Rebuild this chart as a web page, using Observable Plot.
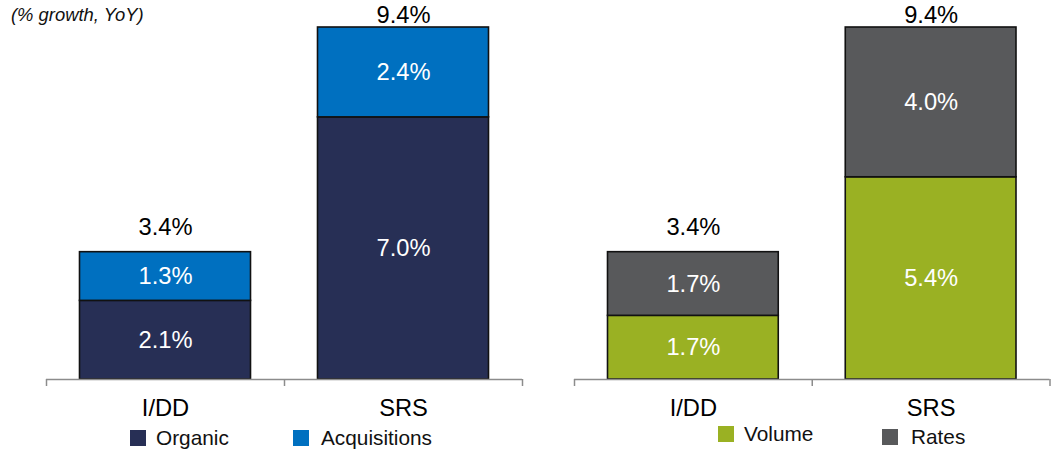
<!DOCTYPE html>
<html>
<head>
<meta charset="utf-8">
<script src="https://cdn.jsdelivr.net/npm/d3@7"></script>
<script src="https://cdn.jsdelivr.net/npm/@observablehq/plot@0.6"></script>
<style>
  body { margin: 0; background: #fff; font-family: "Liberation Sans", Arial, sans-serif; }
  #chart { position: relative; width: 1055px; height: 449px; overflow: hidden; }
  .title { position: absolute; left: 11px; top: 4px; font-size: 18.4px; font-style: italic; color: #111; }
  .panel { position: absolute; top: 0; }
  .panel g[aria-label="x-axis tick"] path { stroke-width: 1.5; }
  .legend-item { position: absolute; display: flex; align-items: center; font-size: 20.8px; line-height: 16px; color: #111; }
  .swatch { width: 16px; height: 16px; }
</style>
</head>
<body>
<div id="chart">
  <div class="title">(% growth, YoY)</div>
</div>
<script>
// Growth contributions by segment (% YoY)
const categories = ["I/DD", "SRS"];
const organic = [2.1, 7.0];
const acquisitions = [1.3, 2.4];
const volume = [1.7, 5.4];
const rates = [1.7, 4.0];

const seriesNamesLeft = ["Organic", "Acquisitions"];
const seriesNamesRight = ["Volume", "Rates"];
const colorsLeft = ["#272F55", "#0070C0"];
const colorsRight = ["#9AB123", "#58595B"];

const yMax = 9.4;
const fmt = v => v.toFixed(1) + "%";
const fontFamily = '"Liberation Sans", Arial, sans-serif';
const labelSize = 23.7;

function panel(names, colors, lower, upper, layout) {
  const rows = categories.flatMap((cat, i) => [
    {cat, i, series: names[0], value: lower[i]},
    {cat, i, series: names[1], value: upper[i]}
  ]);
  const totals = categories.map((cat, i) => ({cat, i, total: lower[i] + upper[i]}));

  return Plot.plot({
    width: layout.width,
    height: 420,
    marginLeft: layout.marginLeft,
    marginRight: layout.marginRight,
    marginTop: 27,
    marginBottom: 41,
    x: {
      domain: [0, categories.length],
      ticks: d3.range(categories.length + 1),
      tickSize: 7,
      tickFormat: () => "",
      label: null
    },
    y: {domain: [0, yMax], axis: null},
    color: {domain: names, range: colors},
    style: {fontFamily, background: "transparent", overflow: "visible", color: "#8c8c8c"},
    marks: [
      Plot.rectY(rows, {
        x1: "i", x2: d => d.i + 1, y: "value", fill: "series",
        stroke: "#111", strokeWidth: 1.6, insetLeft: 33.5, insetRight: 33.5
      }),
      Plot.text(rows, Plot.stackY({
        x: d => d.i + 0.5, y: "value", text: d => fmt(d.value),
        fill: "white", fontSize: labelSize
      })),
      // totals sit above each bar, kept within the top margin for the tallest bar
      Plot.text(totals, {
        x: d => d.i + 0.5, y: d => Math.min(d.total + 0.67, yMax + 0.33),
        text: d => fmt(d.total), fill: "#000", fontSize: labelSize
      }),
      Plot.ruleY([0], {stroke: "#8c8c8c", strokeWidth: 1.5}),
      Plot.text(categories, {
        x: (d, i) => i + 0.5, y: 0, dy: 29, text: d => d, fill: "#000", fontSize: labelSize
      })
    ]
  });
}

const chart = document.getElementById("chart");

const left = panel(seriesNamesLeft, colorsLeft, organic, acquisitions, {width: 530, marginLeft: 46, marginRight: 8});
left.classList.add("panel");
left.style.left = "0px";
chart.appendChild(left);

const right = panel(seriesNamesRight, colorsRight, volume, rates, {width: 525, marginLeft: 44, marginRight: 5.5});
right.classList.add("panel");
right.style.left = "530px";
chart.appendChild(right);

// Legend swatches below each panel
const legendLayout = [
  {name: seriesNamesLeft[0], color: colorsLeft[0], left: 130, top: 430, gap: 10},
  {name: seriesNamesLeft[1], color: colorsLeft[1], left: 293, top: 430, gap: 12},
  {name: seriesNamesRight[0], color: colorsRight[0], left: 718, top: 426, gap: 10},
  {name: seriesNamesRight[1], color: colorsRight[1], left: 882, top: 429, gap: 13}
];
for (const item of legendLayout) {
  const el = document.createElement("div");
  el.className = "legend-item";
  el.style.left = item.left + "px";
  el.style.top = item.top + "px";
  const sw = document.createElement("span");
  sw.className = "swatch";
  sw.style.background = item.color;
  sw.style.marginRight = item.gap + "px";
  const label = document.createElement("span");
  label.textContent = item.name;
  el.appendChild(sw);
  el.appendChild(label);
  chart.appendChild(el);
}
</script>
</body>
</html>
